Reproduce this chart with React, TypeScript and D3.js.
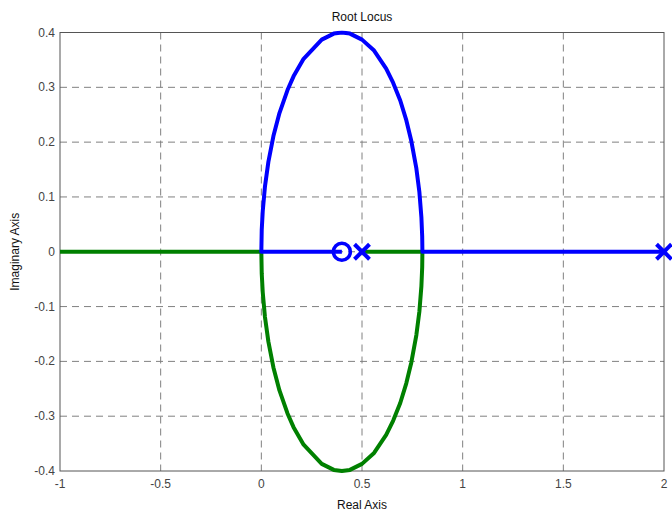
import React from "react";
import * as d3 from "d3";

// root locus: poles at 0.5 and 2, zero at 0.4
const poles = [0.5, 2];
const zeros = [0.4];

const xTicks = [-1, -0.5, 0, 0.5, 1, 1.5, 2];
const yTicks = [0.4, 0.3, 0.2, 0.1, 0, -0.1, -0.2, -0.3, -0.4];

// upper arc (blue), going from 0.8 back to 0
const upperArc: [number, number][] = [
  [0.8, 0], [0.799, 0.028], [0.795, 0.063], [0.785, 0.109], [0.77, 0.152],
  [0.745, 0.202], [0.72, 0.24], [0.69, 0.276], [0.655, 0.308], [0.62, 0.334],
  [0.56, 0.367], [0.5, 0.387], [0.44, 0.398], [0.4, 0.4], [0.36, 0.398],
  [0.3, 0.387], [0.21, 0.352], [0.16, 0.32], [0.13, 0.295], [0.09, 0.253],
  [0.06, 0.211], [0.035, 0.164], [0.018, 0.119], [0.007, 0.074], [0.002, 0.04],
  [0, 0],
];

// lower arc (green)
const lowerArc: [number, number][] = [
  [0.8, 0], [0.799, -0.028], [0.795, -0.063], [0.785, -0.109], [0.77, -0.152],
  [0.745, -0.202], [0.72, -0.24], [0.69, -0.276], [0.655, -0.308], [0.62, -0.334],
  [0.56, -0.367], [0.5, -0.387], [0.44, -0.398], [0.4, -0.4], [0.36, -0.398],
  [0.3, -0.387], [0.21, -0.352], [0.16, -0.32], [0.13, -0.295], [0.09, -0.253],
  [0.06, -0.211], [0.035, -0.164], [0.018, -0.119], [0.007, -0.074], [0.002, -0.04],
  [0, 0],
];

const branch1: [number, number][] = [[2, 0], ...upperArc, [0.4, 0]];
const branch2: [number, number][] = [[0.5, 0], ...lowerArc, [-1, 0]];

const W = 672;
const H = 516;
const margin = { left: 60, right: 8, top: 32.5, bottom: 45 };
const font = "'Liberation Sans', Arial, Helvetica, sans-serif";

export default function App() {
  const x = d3.scaleLinear().domain([-1, 2]).range([margin.left, W - margin.right]);
  const y = d3.scaleLinear().domain([-0.4, 0.4]).range([H - margin.bottom, margin.top]);

  const line = d3
    .line<[number, number]>()
    .x((d) => x(d[0]))
    .y((d) => y(d[1]));

  const x0 = x.range()[0], x1 = x.range()[1];
  const y0 = y.range()[0], y1 = y.range()[1];

  return (
    <svg
      width={W}
      height={H}
      style={{ position: "absolute", left: 0, top: 0, background: "#fff" }}
      fontFamily={font}
    >
      <defs>
        <clipPath id="plotClip">
          <rect x={x0} y={y1 - 2} width={x1 - x0} height={y0 - y1 + 4} />
        </clipPath>
      </defs>

      {/* grid */}
      {xTicks.slice(1, -1).map((t) => (
        <line key={"gx" + t} x1={x(t)} x2={x(t)} y1={y1} y2={y0}
          stroke="#808080" strokeWidth={1} strokeDasharray="7,5" />
      ))}
      {yTicks.slice(1, -1).map((t) => (
        <line key={"gy" + t} x1={x0} x2={x1} y1={y(t)} y2={y(t)}
          stroke="#808080" strokeWidth={1} strokeDasharray="7,5" />
      ))}

      {/* axes box */}
      <rect x={x0} y={y1} width={x1 - x0} height={y0 - y1} fill="none" stroke="#555" strokeWidth={1} />

      {/* tick labels */}
      {xTicks.map((t) => (
        <text key={"tx" + t} x={x(t)} y={y0 + 17} fontSize={12} fill="#444" textAnchor="middle">
          {String(t)}
        </text>
      ))}
      {yTicks.map((t) => (
        <text key={"ty" + t} x={x0 - 5} y={y(t) + 4} fontSize={12} fill="#444" textAnchor="end">
          {String(t)}
        </text>
      ))}

      {/* locus branches */}
      <g clipPath="url(#plotClip)">
        <path d={line(branch2) ?? ""} fill="none" stroke="#008000" strokeWidth={4} strokeLinejoin="round" />
        <path d={line(branch1) ?? ""} fill="none" stroke="#0000ff" strokeWidth={4} strokeLinejoin="round" />
      </g>

      {/* markers */}
      {zeros.map((z) => (
        <circle key={"z" + z} cx={x(z)} cy={y(0)} r={8.5} fill="none" stroke="#0000ff" strokeWidth={3.5} />
      ))}
      {poles.map((p) => (
        <g key={"p" + p} stroke="#0000ff" strokeWidth={4}>
          <line x1={x(p) - 7.5} x2={x(p) + 7.5} y1={y(0) - 7.5} y2={y(0) + 7.5} />
          <line x1={x(p) - 7.5} x2={x(p) + 7.5} y1={y(0) + 7.5} y2={y(0) - 7.5} />
        </g>
      ))}

      {/* titles */}
      <text x={(x0 + x1) / 2} y={21} fontSize={12} textAnchor="middle" fill="#111">Root Locus</text>
      <text x={(x0 + x1) / 2} y={509} fontSize={12} textAnchor="middle" fill="#111">Real Axis</text>
      <text transform={`translate(19,${(y0 + y1) / 2}) rotate(-90)`} fontSize={12} textAnchor="middle" fill="#111">
        Imaginary Axis
      </text>
    </svg>
  );
}
